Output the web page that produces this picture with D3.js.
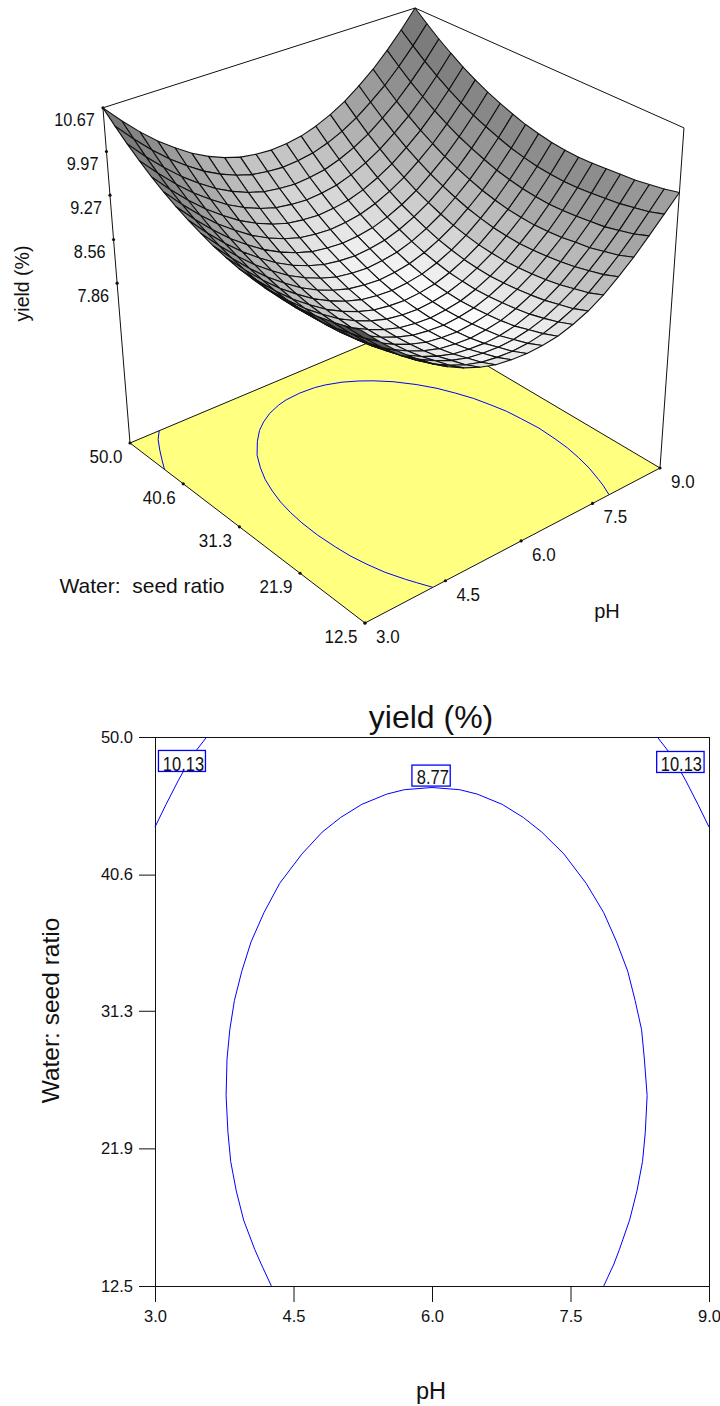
<!DOCTYPE html>
<html><head><meta charset="utf-8">
<style>html,body{margin:0;padding:0;background:#fff}svg{display:block}text{font-family:"Liberation Sans",Arial,sans-serif;fill:#111;white-space:pre}</style>
<script src="https://d3js.org/d3.v7.min.js"></script></head><body>
<script>
const pHTicks=[3.0,4.5,6.0,7.5,9.0];
const ratioTicks=[12.5,21.9,31.3,40.6,50.0];
const yieldTicks=[10.67,9.97,9.27,8.56,7.86];
const pHGrid=[3,3.3,3.6,3.9,4.2,4.5,4.8,5.1,5.4,5.7,6,6.3,6.6,6.9,7.2,7.5,7.8,8.1,8.4,8.7,9];
const ratioGrid=[12.5,14.375,16.25,18.125,20,21.875,23.75,25.625,27.5,29.375,31.25,33.125,35,36.875,38.75,40.625,42.5,44.375,46.25,48.125,50];
// yield read per ratio row (low to high), pH across
const yieldRows=[
[9.79,9.49,9.22,8.98,8.78,8.60,8.46,8.35,8.27,8.23,8.21,8.22,8.25,8.32,8.42,8.56,8.74,8.94,9.17,9.41,9.65],
[9.69,9.39,9.12,8.88,8.68,8.50,8.36,8.25,8.17,8.13,8.11,8.12,8.16,8.23,8.33,8.47,8.65,8.85,9.08,9.33,9.59],
[9.62,9.32,9.05,8.81,8.61,8.43,8.29,8.18,8.10,8.06,8.04,8.05,8.09,8.16,8.27,8.41,8.59,8.79,9.02,9.28,9.55],
[9.55,9.25,8.98,8.74,8.54,8.36,8.22,8.11,8.03,7.99,7.97,7.98,8.02,8.10,8.21,8.35,8.53,8.73,8.96,9.23,9.51],
[9.50,9.20,8.93,8.69,8.49,8.31,8.17,8.06,7.98,7.94,7.92,7.94,7.98,8.06,8.17,8.31,8.49,8.70,8.93,9.20,9.49],
[9.47,9.17,8.90,8.66,8.46,8.28,8.14,8.03,7.95,7.91,7.89,7.91,7.95,8.03,8.14,8.28,8.46,8.66,8.90,9.17,9.47],
[9.45,9.15,8.88,8.64,8.44,8.26,8.12,8.01,7.93,7.89,7.87,7.89,7.93,8.01,8.12,8.26,8.44,8.64,8.88,9.15,9.45],
[9.44,9.14,8.87,8.63,8.43,8.25,8.11,8.00,7.92,7.88,7.86,7.88,7.92,8.00,8.11,8.25,8.43,8.63,8.87,9.14,9.44],
[9.45,9.15,8.88,8.64,8.44,8.26,8.12,8.01,7.93,7.89,7.87,7.89,7.93,8.01,8.12,8.26,8.44,8.64,8.88,9.15,9.45],
[9.47,9.17,8.90,8.66,8.46,8.28,8.14,8.03,7.95,7.91,7.89,7.91,7.95,8.03,8.14,8.28,8.46,8.66,8.90,9.17,9.47],
[9.51,9.21,8.94,8.70,8.50,8.32,8.18,8.07,7.99,7.95,7.93,7.95,7.99,8.07,8.18,8.32,8.50,8.70,8.94,9.21,9.51],
[9.56,9.26,8.99,8.75,8.55,8.37,8.23,8.12,8.04,8.00,7.98,8.00,8.04,8.12,8.23,8.37,8.55,8.75,8.99,9.26,9.56],
[9.63,9.33,9.06,8.82,8.62,8.44,8.30,8.19,8.11,8.07,8.05,8.07,8.11,8.19,8.30,8.44,8.62,8.82,9.06,9.33,9.63],
[9.71,9.41,9.14,8.90,8.70,8.52,8.38,8.27,8.19,8.15,8.13,8.15,8.19,8.27,8.38,8.52,8.70,8.90,9.14,9.41,9.71],
[9.80,9.50,9.23,8.99,8.79,8.61,8.47,8.36,8.28,8.24,8.22,8.24,8.28,8.36,8.47,8.61,8.79,8.99,9.23,9.50,9.80],
[9.91,9.61,9.34,9.10,8.90,8.72,8.58,8.47,8.39,8.35,8.33,8.35,8.39,8.47,8.58,8.72,8.90,9.10,9.34,9.61,9.91],
[10.03,9.73,9.46,9.22,9.02,8.84,8.70,8.59,8.51,8.47,8.45,8.47,8.51,8.59,8.70,8.84,9.02,9.22,9.46,9.73,10.03],
[10.17,9.87,9.60,9.36,9.16,8.98,8.84,8.73,8.65,8.61,8.59,8.61,8.65,8.73,8.84,8.98,9.16,9.36,9.60,9.87,10.17],
[10.32,10.02,9.75,9.51,9.31,9.13,8.99,8.88,8.80,8.76,8.74,8.76,8.80,8.88,8.99,9.13,9.31,9.51,9.75,10.02,10.32],
[10.49,10.19,9.92,9.68,9.48,9.30,9.16,9.05,8.97,8.93,8.91,8.93,8.97,9.05,9.16,9.30,9.48,9.68,9.92,10.19,10.49],
[10.67,10.37,10.10,9.86,9.66,9.48,9.34,9.23,9.15,9.11,9.09,9.11,9.15,9.23,9.34,9.48,9.66,9.86,10.10,10.37,10.67]];
// contours: [pH, ratio]
const contour877=[[4.26,12.5],[4.15,14],[4.08,15],[3.96,17],[3.88,19],[3.82,21],[3.79,23],[3.77,25.5],[3.78,28],[3.81,30],[3.86,32],[3.94,34],[4.04,36],[4.18,38],[4.35,40],[4.59,42],[4.81,43.5],[5.01,44.5],[5.24,45.4],[5.51,46.1],[5.70,46.4],[6.0,46.55],[6.30,46.4],[6.49,46.1],[6.76,45.4],[6.99,44.5],[7.19,43.5],[7.43,42],[7.67,40],[7.86,38],[8.00,36],[8.12,34],[8.20,32],[8.27,30],[8.30,28],[8.33,25.5],[8.31,23],[8.28,21],[8.22,19],[8.14,17],[8.03,15],[7.97,14],[7.86,12.5]];
const contour1013L=[[3,43.85],[3.12,45.4],[3.25,47],[3.40,48.7],[3.56,50]];
const contour1013R=[[8.44,50],[8.60,48.7],[8.75,47],[8.88,45.4],[9,43.85]];
const contourLabels=[{t:"10.13",p:3.292,r:48.33,w:47,dx:1.5,b:9.3},{t:"8.77",p:5.99,r:47.33,w:38.3,dx:1.8,b:8},{t:"10.13",p:8.69,r:48.26,w:47.4,dx:1,b:9}];

const W=720,H=1406;
const svg=d3.select("body").append("svg").attr("width",W).attr("height",H);
const BLUE="#0000ff";

// ---- 3D view: projective map of the floor
const floorC=[[130,443],[415,323],[660,468],[365,623]]; // (3,50),(9,50),(9,12.5),(3,12.5)
function solveHomography(q){ // unit square (u,v): (0,1),(1,1),(1,0),(0,0)
  const [x3,y3]=q[3],[x2,y2]=q[2],[x1,y1]=q[1],[x0,y0]=q[0];
  const dx1=x2-x1,dx2=x0-x1,sx=x3-x2+x1-x0,dy1=y2-y1,dy2=y0-y1,sy=y3-y2+y1-y0;
  const d=dx1*dy2-dx2*dy1,g=(sx*dy2-dx2*sy)/d,h=(dx1*sy-sx*dy1)/d;
  const a=x2-x3+g*x2,b=x0-x3+h*x0,c=x3,dd=y2-y3+g*y2,e=y0-y3+h*y0,f=y3;
  return (u,v)=>{const w=g*u+h*v+1;return [(a*u+b*v+c)/w,(dd*u+e*v+f)/w];};
}
const floorH=solveHomography(floorC);
const uS=d3.scaleLinear().domain([3,9]).range([0,1]);
const vS=d3.scaleLinear().domain([12.5,50]).range([0,1]);
const floorPt=(p,r)=>floorH(uS(p),vS(r));
const vp=[414,3960];
const topRatio=(u,v)=>{ // height ratio of the box edges at the four corners
  const a=1.0953,b=1.0866,c=1.0974,d=1.105;
  return (1-u)*v*a+u*v*b+u*(1-v)*c+(1-u)*(1-v)*d;};
const zS=d3.scaleLinear().domain([5.30,10.67]).range([0,1]);
function proj(p,r,z){
  const F=floorPt(p,r),k=1+(topRatio(uS(p),vS(r))-1)*zS(z);
  return [vp[0]+(F[0]-vp[0])*k,vp[1]+(F[1]-vp[1])*k];
}
const line=d3.line();
const g3=svg.append("g");
g3.append("path").attr("d",line(floorC)+"Z").attr("fill","#ffff80").attr("stroke","#111").attr("stroke-width",1);
const floorLine=d3.line().x(d=>floorPt(d[0],d[1])[0]).y(d=>floorPt(d[0],d[1])[1]);
[contour877,contour1013L].forEach(c=>g3.append("path").attr("d",floorLine(c)).attr("fill","none").attr("stroke",BLUE).attr("stroke-width",1));
// box
const boxPts=[proj(3,50,5.30),proj(3,50,10.67),proj(9,50,10.67),proj(9,12.5,10.67),proj(9,12.5,5.30)];
g3.append("path").attr("d",line(boxPts)).attr("fill","none").attr("stroke","#111").attr("stroke-width",1);
// surface cells, far to near
const cells=[];
for(let j=0;j<ratioGrid.length-1;j++)for(let i=0;i<pHGrid.length-1;i++){
  const q=[[i,j],[i+1,j],[i+1,j+1],[i,j+1]];
  const pts=q.map(([a,b])=>proj(pHGrid[a],ratioGrid[b],yieldRows[b][a]));
  const depth=d3.mean(q,([a,b])=>floorPt(pHGrid[a],ratioGrid[b])[1]);
  const zp=((yieldRows[j][i+1]+yieldRows[j+1][i+1])-(yieldRows[j][i]+yieldRows[j+1][i]))/2/(uS(pHGrid[i+1])-uS(pHGrid[i]));
  const zw=((yieldRows[j+1][i]+yieldRows[j+1][i+1])-(yieldRows[j][i]+yieldRows[j][i+1]))/2/(vS(ratioGrid[j+1])-vS(ratioGrid[j]));
  const s=0.8/(10.67-5.30);
  const lum=1/(1+(zp*s)*(zp*s)+(zw*s)*(zw*s));
  const area=d3.polygonArea(pts);
  cells.push({pts,depth,lum,area});
}
cells.sort((a,b)=>a.depth-b.depth);
const grayS=d3.scaleLinear().domain([0,1]).range([0,255]);
g3.selectAll("path.cell").data(cells).join("path").attr("class","cell")
 .attr("d",d=>line(d.pts)+"Z")
 .attr("fill",d=>{const g=Math.round(grayS(d.area<0?d.lum*0.62:d.lum));return `rgb(${g},${g},${g})`;})
 .attr("stroke","#111").attr("stroke-width",1.1).attr("stroke-linejoin","round");
// ticks
const dots=[];
pHTicks.forEach(p=>dots.push(floorPt(p,12.5)));
ratioTicks.forEach(r=>dots.push(floorPt(3,r)));
yieldTicks.forEach(z=>dots.push(proj(3,50,z)));
g3.selectAll("circle").data(dots).join("circle").attr("cx",d=>d[0]).attr("cy",d=>d[1]).attr("r",1.6).attr("fill","#111");
const lab=(g,t,x,y,fs,anchor,rot,sy)=>g.append("text").text(t).attr("font-size",fs).attr("text-anchor",anchor||"middle")
  .attr("transform",`translate(${x},${y})`+(rot?` rotate(${rot})`:"")+(sy?` scale(1,${sy})`:""));
yieldTicks.forEach(z=>{const P=proj(3,50,z);lab(g3,z.toFixed(2),P[0]-8,P[1]+18.6,16.3,"end",0,1.08);});
ratioTicks.forEach(r=>{const P=floorPt(3,r);lab(g3,r.toFixed(1),P[0]-7.5,P[1]+20,17,"end",0,1.1);});
pHTicks.forEach(p=>{const P=floorPt(p,12.5);lab(g3,p.toFixed(1),P[0]+11,P[1]+20,17,"start",0,1.1);});
lab(g3,"Water:  seed ratio",142,593,21,"middle");
lab(g3,"pH",607,618,20,"middle");
lab(g3,"yield (%)",29,283.5,19.5,"middle",-90);

// ---- contour panel
const x=d3.scaleLinear().domain([3,9]).range([155,709]);
const y=d3.scaleLinear().domain([12.5,50]).range([1286,737]);
const g2=svg.append("g");
g2.append("rect").attr("x",155).attr("y",737).attr("width",554).attr("height",549).attr("fill","#fff").attr("stroke","#111").attr("stroke-width",1).attr("shape-rendering","crispEdges");
const tickStyle=a=>{a.select(".domain").remove();a.selectAll("text").attr("font-size",16.5).attr("fill","#111").attr("font-family",null);a.selectAll("line").attr("stroke","#111");};
g2.append("g").attr("transform","translate(0,1286)").call(d3.axisBottom(x).tickValues(pHTicks).tickFormat(d3.format(".1f")).tickSize(16).tickSizeOuter(0))
 .call(tickStyle).call(a=>a.selectAll("text").attr("y",24));
g2.append("g").attr("transform","translate(155,0)").call(d3.axisLeft(y).tickValues(ratioTicks).tickFormat(d3.format(".1f")).tickSize(16).tickSizeOuter(0))
 .call(tickStyle).call(a=>a.selectAll("text").attr("x",-22));
const cLine=d3.line().x(d=>x(d[0])).y(d=>y(d[1]));
[contour877,contour1013L,contour1013R].forEach(c=>g2.append("path").attr("d",cLine(c)).attr("fill","none").attr("stroke",BLUE).attr("stroke-width",1));
contourLabels.forEach(c=>{
  const cx=x(c.p),cy=y(c.r);
  g2.append("rect").attr("x",cx-c.w/2).attr("y",cy-11).attr("width",c.w).attr("height",21).attr("fill","#fff").attr("stroke",BLUE).attr("stroke-width",1.3);
  lab(g2,c.t,cx+c.dx,cy+c.b,16.5,"middle",0,1.2);
});
lab(g2,"yield (%)",431,728,32,"middle");
lab(g2,"Water: seed ratio",59,1010.5,24.5,"middle",-90);
lab(g2,"pH",431,1399,23.5,"middle");
</script></body></html>
